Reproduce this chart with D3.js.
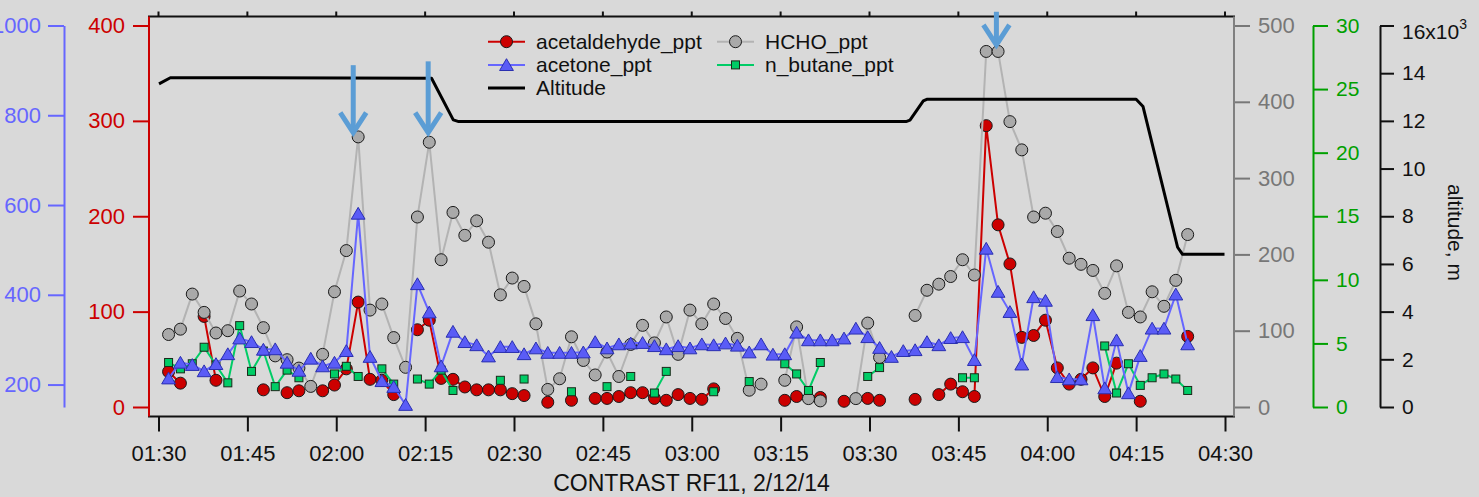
<!DOCTYPE html>
<html>
<head>
<meta charset="utf-8">
<script src="https://cdn.jsdelivr.net/npm/d3@7"></script>
<style>
body { margin: 0; background: #d9d9d9; }
svg text { font-family: "Liberation Sans", Arial, sans-serif; }
</style>
</head>
<body>
<svg id="chart" width="1479" height="497"></svg>
<script>
// sample times (2 min) for the VOC canisters
var times = ["01:31:42","01:33:42","01:35:42","01:37:42","01:39:42","01:41:42","01:43:42","01:45:42","01:47:42","01:49:42",
    "01:51:42","01:53:42","01:55:42","01:57:42","01:59:42","02:01:42","02:03:42","02:05:42","02:07:42","02:09:42",
    "02:11:42","02:13:42","02:15:42","02:17:42","02:19:42","02:21:42","02:23:42","02:25:42","02:27:42","02:29:42",
    "02:31:42","02:33:42","02:35:42","02:37:42","02:39:42","02:41:42","02:43:42","02:45:42","02:47:42","02:49:42",
    "02:51:42","02:53:42","02:55:42","02:57:42","02:59:42","03:01:42","03:03:42","03:05:42","03:07:42","03:09:42",
    "03:11:42","03:13:42","03:15:42","03:17:42","03:19:42","03:21:42","03:23:42","03:25:42","03:27:42","03:29:42",
    "03:31:42","03:33:42","03:35:42","03:37:42","03:39:42","03:41:42","03:43:42","03:45:42","03:47:42","03:49:42",
    "03:51:42","03:53:42","03:55:42","03:57:42","03:59:42","04:01:42","04:03:42","04:05:42","04:07:42","04:09:42",
    "04:11:42","04:13:42","04:15:42","04:17:42","04:19:42","04:21:42","04:23:42"];

var acetaldehyde = [37,25,null,95,28,null,null,null,18,null,
    15,17,null,17,23,40,110,29,28,13,
    null,81,91,30,29,21,18,18,18,14,
    12,null,5,null,7,null,9,9,11,15,
    15,9,7,13,9,8,19,null,null,null,
    null,null,7,11,null,10,null,6,null,9,
    7,null,null,8,null,13,24,16,11,295,
    191,150,73,75,91,41,24,29,41,11,
    46,null,6,null,null,null,74];

var hcho = [95,102,148,124,97,100,152,135,104,67,
    62,51,27,69,151,205,354,127,135,91,
    52,249,347,193,255,225,244,216,147,169,
    158,109,23,37,92,61,42,72,40,82,
    107,84,118,69,127,109,135,116,90,22,
    30,null,35,105,11,8,null,null,11,110,
    65,null,null,120,153,161,171,193,173,466,
    466,374,337,249,254,230,195,187,179,149,
    185,124,118,151,132,166,226];

var acetone = [214,249,244,230,246,268,303,295,278,279,
    249,231,258,241,249,275,581,262,208,195,
    155,424,361,241,318,295,288,263,284,284,
    268,281,271,271,271,272,295,281,290,292,
    293,286,279,286,281,290,288,292,287,272,
    290,267,268,316,299,299,299,303,325,306,
    282,262,275,277,295,288,304,306,255,503,
    407,362,245,395,387,217,212,212,355,192,
    299,181,264,325,325,401,290];

var nButane = [3.5,3.0,3.4,4.7,3.3,1.9,6.4,2.8,4.4,1.6,
    2.9,2.3,null,null,2.6,3.2,2.4,null,3.0,1.8,
    null,2.2,1.8,2.9,1.3,null,null,null,2.1,null,
    2.2,null,null,null,1.2,null,null,1.6,null,2.4,
    null,1.1,2.8,null,null,null,1.2,null,null,2.0,
    null,null,3.4,2.6,1.3,3.5,null,null,null,2.4,
    3.1,null,null,null,null,null,null,2.3,2.3,null,
    null,null,null,null,null,null,null,null,null,4.8,
    1.1,3.4,1.7,2.3,2.6,2.2,1.3];

// aircraft altitude (m)
var altTimes = ["01:30:05","01:32:00","02:16:05","02:19:45","02:20:40","03:36:10","03:36:50","03:39:05","03:39:40",
    "04:15:00","04:16:10","04:22:00","04:22:50","04:29:55"];
var altValues = [13550,13810,13790,12040,11970,11970,12030,12840,12905,12905,12600,6700,6404,6404];

// arrows pointing at the HCHO spikes (HCHO units)
var arrowTimes = ["02:02:52","02:15:31","03:51:25"];
var arrowTips = [357,357,472];
var arrowTails = [448,453,518];

var xTicks = ["01:30","01:45","02:00","02:15","02:30","02:45","03:00","03:15","03:30","03:45","04:00","04:15","04:30"];

var parseTime = d3.timeParse('%H:%M:%S');
var parseTick = d3.timeParse('%H:%M');

var frame = {left: 149, right: 1234, top: 16.5, bottom: 416.5};
var yTop = 25.5, yBot = 407;

var svg = d3.select('#chart');
svg.append('rect').attr('width', 1479).attr('height', 497).attr('fill', '#d9d9d9');

var x = d3.scaleTime()
    .domain([parseTick('01:30'), parseTick('04:30')])
    .range([158.5, 1225]);

var yRed = d3.scaleLinear().domain([0, 400]).range([yBot, yTop]);
var yBlue = d3.scaleLinear().domain([150, 1000]).range([yBot, yTop]);
var yGray = d3.scaleLinear().domain([0, 500]).range([yBot, yTop]);
var yGreen = d3.scaleLinear().domain([0, 30]).range([yBot, yTop]);
var yAlt = d3.scaleLinear().domain([0, 16000]).range([yBot, yTop]);

var tickDates = xTicks.map(parseTick);

function styleAxis(g, size, color) {
    g.attr('font-size', size).attr('font-family', '"Liberation Sans", Arial, sans-serif');
    g.selectAll('line').attr('stroke-width', 2);
    g.selectAll('path').attr('stroke-width', 2);
    g.attr('color', color);
}

// frame
svg.append('rect')
    .attr('x', frame.left).attr('y', frame.top)
    .attr('width', frame.right - frame.left).attr('height', frame.bottom - frame.top)
    .attr('fill', 'none').attr('stroke', '#111').attr('stroke-width', 2);

// mirror ticks on top
svg.append('g').selectAll('line').data(tickDates).enter().append('line')
    .attr('x1', function(d) { return x(d); }).attr('x2', function(d) { return x(d); })
    .attr('y1', frame.top).attr('y2', frame.top - 5)
    .attr('stroke', '#111').attr('stroke-width', 2);

// bottom axis
var gx = svg.append('g')
    .attr('transform', 'translate(0,' + frame.bottom + ')')
    .call(d3.axisBottom(x).tickValues(tickDates).tickFormat(d3.timeFormat('%H:%M'))
        .tickSize(15).tickSizeOuter(0).tickPadding(14));
gx.select('.domain').remove();
styleAxis(gx, 22, '#111');

svg.append('text')
    .attr('x', (frame.left + frame.right) / 2).attr('y', 491)
    .attr('text-anchor', 'middle').attr('font-size', 23).attr('fill', '#111')
    .text('CONTRAST RF11, 2/12/14');

// left axes
var gRed = svg.append('g').attr('transform', 'translate(' + frame.left + ',0)')
    .call(d3.axisLeft(yRed).tickValues([0, 100, 200, 300, 400]).tickSize(16).tickPadding(8).tickSizeOuter(0));
gRed.select('.domain').remove();
styleAxis(gRed, 22, '#cc0000');
svg.append('line').attr('x1', frame.left).attr('x2', frame.left)
    .attr('y1', frame.top).attr('y2', frame.bottom)
    .attr('stroke', '#cc0000').attr('stroke-width', 2);

var gBlue = svg.append('g').attr('transform', 'translate(64,0)')
    .call(d3.axisLeft(yBlue).tickValues([200, 400, 600, 800, 1000]).tickFormat(d3.format('d'))
        .tickSize(16).tickPadding(7).tickSizeOuter(0));
styleAxis(gBlue, 22, '#6666ff');

// right axes
var gGray = svg.append('g').attr('transform', 'translate(' + frame.right + ',0)')
    .call(d3.axisRight(yGray).tickValues([0, 100, 200, 300, 400, 500]).tickSize(16).tickPadding(8).tickSizeOuter(0));
gGray.select('.domain').remove();
styleAxis(gGray, 22, '#777777');
svg.append('line').attr('x1', frame.right).attr('x2', frame.right)
    .attr('y1', frame.top).attr('y2', frame.bottom)
    .attr('stroke', '#808080').attr('stroke-width', 2);

var gGreen = svg.append('g').attr('transform', 'translate(1313,0)')
    .call(d3.axisRight(yGreen).tickValues([0, 5, 10, 15, 20, 25, 30]).tickSize(15).tickPadding(8).tickSizeOuter(0));
styleAxis(gGreen, 21, '#00a000');

var gAlt = svg.append('g').attr('transform', 'translate(1380,0)')
    .call(d3.axisRight(yAlt).tickValues(d3.range(0, 16001, 2000))
        .tickFormat(function(d) { return d / 1000; })
        .tickSize(14).tickPadding(8).tickSizeOuter(0));
styleAxis(gAlt, 21, '#111');
gAlt.selectAll('.tick text').filter(function(d) { return d === 16000; })
    .text('16x10').attr('dy', '0.62em')
    .append('tspan').attr('dy', '-0.75em').attr('font-size', 14).text('3');

svg.append('text')
    .attr('transform', 'translate(1448,232.5) rotate(90)')
    .attr('text-anchor', 'middle').attr('font-size', 21).attr('fill', '#111')
    .text('altitude, m');

// series
function rows(vals) {
    return times.map(function(t, i) { return {t: parseTime(t), v: vals[i]}; });
}

var triPath = 'M0,-6.2L6.9,5.6L-6.9,5.6Z';

function drawSeries(vals, yScale, lineColor, marker) {
    var data = rows(vals);
    var g = svg.append('g');
    g.append('path')
        .datum(data)
        .attr('fill', 'none')
        .attr('stroke', lineColor)
        .attr('stroke-width', 2)
        .attr('d', d3.line().defined(function(d) { return d.v != null; })
            .x(function(d) { return x(d.t); }).y(function(d) { return yScale(d.v); }));
    var pts = g.selectAll('g.pt').data(data.filter(function(d) { return d.v != null; }))
        .enter().append('g')
        .attr('transform', function(d) { return 'translate(' + x(d.t) + ',' + yScale(d.v) + ')'; });
    marker(pts);
}

function circleMarker(fill) {
    return function(sel) {
        sel.append('circle').attr('r', 6).attr('fill', fill).attr('stroke', '#1a1a1a').attr('stroke-width', 1);
    };
}
function triMarker(sel) {
    sel.append('path').attr('d', triPath).attr('fill', '#5a5cf6').attr('stroke', '#2a2fb0').attr('stroke-width', 1);
}
function squareMarker(sel) {
    sel.append('rect').attr('x', -4).attr('y', -4).attr('width', 8).attr('height', 8)
        .attr('fill', '#00cc66').attr('stroke', '#1a2a1a').attr('stroke-width', 1);
}

drawSeries(acetaldehyde, yRed, '#cc0000', circleMarker('#cc0000'));
drawSeries(hcho, yGray, '#b3b3b3', circleMarker('#a9a9a9'));
drawSeries(nButane, yGreen, '#00cc66', squareMarker);
drawSeries(acetone, yBlue, '#6666ff', triMarker);

// altitude
var altData = altTimes.map(function(t, i) { return {t: parseTime(t), v: altValues[i]}; });
svg.append('path')
    .datum(altData)
    .attr('fill', 'none').attr('stroke', '#000').attr('stroke-width', 3).attr('stroke-linejoin', 'round')
    .attr('d', d3.line().x(function(d) { return x(d.t); }).y(function(d) { return yAlt(d.v); }));

// arrows
arrowTimes.forEach(function(t, i) {
    var ax = x(parseTime(t));
    var tipY = yGray(arrowTips[i]);
    var tailY = yGray(arrowTails[i]);
    var g = svg.append('g').attr('stroke', '#5b9dd5').attr('stroke-width', 5).attr('fill', 'none');
    g.append('line').attr('x1', ax).attr('x2', ax).attr('y1', tailY).attr('y2', tipY - 3);
    g.append('path')
        .attr('stroke-linejoin', 'miter')
        .attr('d', 'M' + (ax - 13) + ',' + (tipY - 22) + 'L' + ax + ',' + (tipY - 2) + 'L' + (ax + 13) + ',' + (tipY - 22));
});

// legend
var legendItems = [
    {name: 'acetaldehyde_ppt', col: 0, row: 0, color: '#cc0000', marker: circleMarker('#cc0000')},
    {name: 'HCHO_ppt', col: 1, row: 0, color: '#b3b3b3', marker: circleMarker('#a9a9a9')},
    {name: 'acetone_ppt', col: 0, row: 1, color: '#6666ff', marker: triMarker},
    {name: 'n_butane_ppt', col: 1, row: 1, color: '#00cc66', marker: squareMarker},
    {name: 'Altitude', col: 0, row: 2, color: '#000', marker: null}
];
var legend = svg.append('g').attr('transform', 'translate(488,41.7)');
legendItems.forEach(function(it) {
    var g = legend.append('g').attr('transform', 'translate(' + (it.col * 229) + ',' + (it.row * 23.2) + ')');
    g.append('line').attr('x1', 0).attr('x2', 37).attr('y1', 0).attr('y2', 0)
        .attr('stroke', it.color).attr('stroke-width', it.marker ? 2 : 3);
    if (it.marker) {
        it.marker(g.append('g').attr('transform', 'translate(18.5,0)'));
    }
    g.append('text').attr('x', 48).attr('y', 0).attr('dy', '0.35em')
        .attr('font-size', 21).attr('fill', '#111').text(it.name);
});
</script>
</body>
</html>
